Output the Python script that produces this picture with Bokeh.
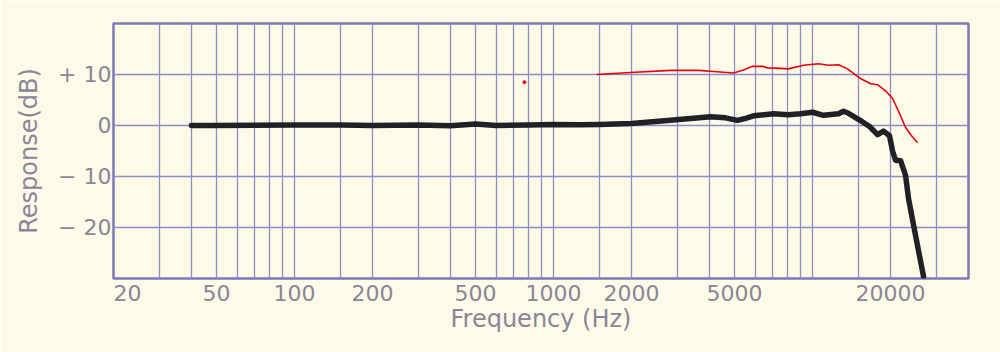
from bokeh.plotting import figure
from bokeh.models import FixedTicker, CustomJSTickFormatter
from bokeh.embed import file_html
from bokeh.resources import INLINE

# ---- data ----
black_freq = [40, 50, 70, 100, 150, 200, 300, 400, 500, 600, 800, 1000, 1270, 1500,
              2000, 2900, 4040, 4610, 5130, 5510, 5920, 7070, 8070, 8990, 10000,
              11020, 12600, 13170, 13640, 14920, 15500, 16600, 17820, 18790, 19820,
              20360, 20910, 21860, 22860, 23470, 24540, 25660, 26820]
black_db = [0.0, 0.0, 0.05, 0.1, 0.1, 0.0, 0.1, -0.05, 0.3, 0.0, 0.1, 0.2, 0.15, 0.2,
            0.4, 1.1, 1.7, 1.5, 1.0, 1.4, 1.9, 2.3, 2.1, 2.3, 2.6,
            2.0, 2.3, 2.8, 2.5, 1.3, 0.8, -0.2, -1.8, -1.1, -2.0,
            -5.0, -6.8, -6.9, -9.8, -14.3, -19.5, -24.6, -29.6]

red_freq = [1466, 1982, 2830, 3628, 4148, 4952, 5412, 5862, 6408, 6700, 7520, 8074,
            9228, 10540, 11530, 12600, 13640, 15320, 16750, 17820, 19130, 20360,
            21480, 22860, 24100, 25420]
red_db = [10.0, 10.4, 10.8, 10.8, 10.6, 10.3, 10.9, 11.6, 11.6, 11.3, 11.2, 11.1,
          11.8, 12.1, 11.8, 11.9, 11.1, 9.2, 8.2, 8.0, 6.8, 5.3,
          2.8, -0.4, -2.0, -3.4]

stray_freq = [772]
stray_db = [8.5]

x_label_ticks = [20, 50, 100, 200, 500, 1000, 2000, 5000, 20000]
x_label_text = ["\u00a0\u00a0\u00a0\u00a020", "50", "100", "200", "500", "1000", "2000", "5000", "20000"]
x_minor_grid = [30, 40, 60, 70, 80, 90, 150, 300, 400, 600, 700, 800, 900, 1500,
                3000, 4000, 6000, 7000, 8000, 9000, 10000, 15000, 30000, 40000]
y_ticks = [-20, -10, 0, 10]
y_labels = ["\u2212 20", "\u2212 10", "0", "+ 10"]
y_grid_extra = [-30, 20]

BG = "#fdfbe8"
GRID = "#8c8cc6"
TEXT = "#8a8598"
FONT = "DejaVu Sans"

p = figure(width=1000, height=352, x_axis_type="log", x_range=(20, 40000),
           y_range=(-30, 20), output_backend="svg", toolbar_location=None,
           min_border_left=113, min_border_right=32, min_border_top=23,
           min_border_bottom=74)
p.background_fill_color = BG
p.border_fill_color = BG
p.outline_line_color = "#7a7ab4"
p.outline_line_width = 2.5

p.xaxis.ticker = FixedTicker(ticks=x_label_ticks, minor_ticks=x_minor_grid)
p.xaxis.formatter = CustomJSTickFormatter(args=dict(vals=x_label_ticks, labs=x_label_text), code="""
const i = vals.findIndex(v => Math.abs(v - tick) < 1e-6 * v);
return i >= 0 ? labs[i] : "";
""")
p.yaxis.ticker = FixedTicker(ticks=y_ticks, minor_ticks=y_grid_extra)
p.yaxis.formatter = CustomJSTickFormatter(args=dict(vals=y_ticks, labs=y_labels), code="""
const i = vals.findIndex(v => Math.abs(v - tick) < 1e-6);
return i >= 0 ? labs[i] : "";
""")

for ax in (p.xaxis, p.yaxis):
    ax.axis_line_color = None
    ax.major_tick_line_color = None
    ax.minor_tick_line_color = None
    ax.major_label_text_font = FONT
    ax.major_label_text_font_size = "22px"
    ax.major_label_text_color = TEXT
    ax.axis_label_text_font = FONT
    ax.axis_label_text_font_size = "24px"
    ax.axis_label_text_font_style = "normal"
    ax.axis_label_text_color = TEXT

p.xaxis.axis_label = "Frequency (Hz)"
p.yaxis.axis_label = "Response(dB)"
p.xaxis.major_label_standoff = -4
p.xaxis.axis_label_standoff = -4
p.yaxis.major_label_standoff = -4
p.yaxis.axis_label_standoff = 12

for g in (p.xgrid, p.ygrid):
    g.grid_line_color = GRID
    g.grid_line_width = 1.3
    g.minor_grid_line_color = GRID
    g.minor_grid_line_width = 1.3

p.line(black_freq, black_db, line_color="#202026", line_width=5.5,
       line_join="round", line_cap="round")
p.line(red_freq, red_db, line_color="#e60010", line_width=1.6, line_join="round")
p.scatter(stray_freq, stray_db, size=3, color="#e60010")

html = file_html(p, INLINE)
html = html.replace("<body>", '<body style="background:%s">' % BG, 1)
open("out.html", "w").write(html)
